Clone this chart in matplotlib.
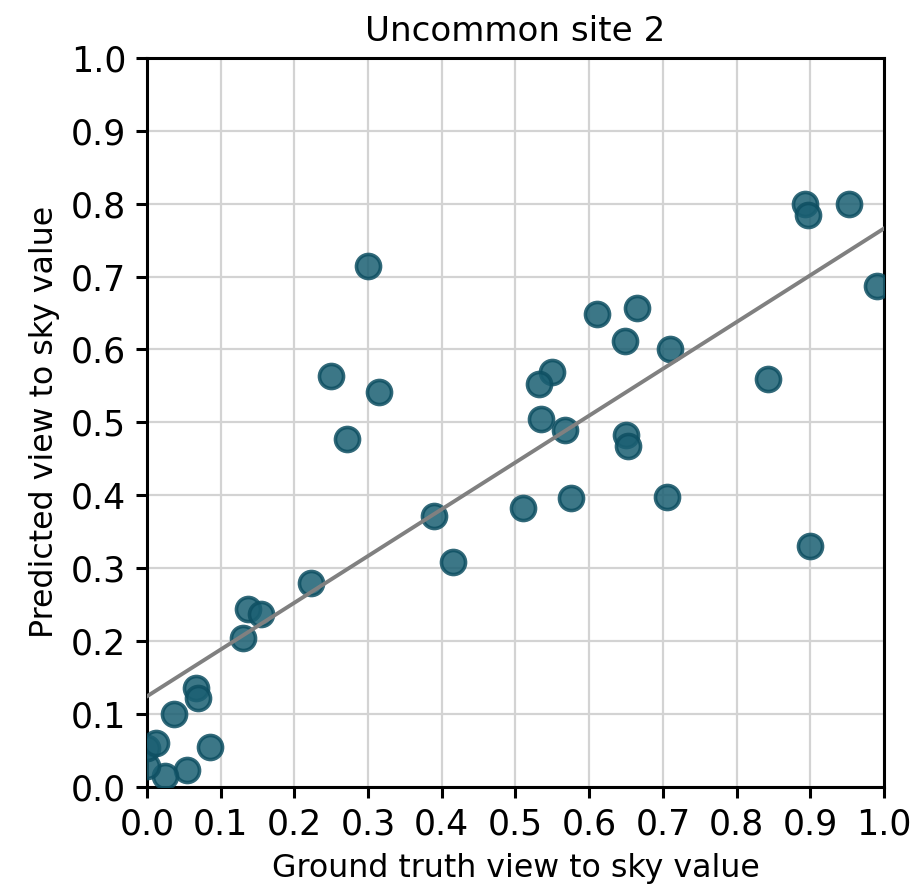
import matplotlib
matplotlib.use('Agg')
import matplotlib.pyplot as plt

# Valores
truth = [0.300, 0.250, 0.315, 0.272, 0.390, 0.415, 0.222, 0.137, 0.155, 0.131,
         0.067, 0.070, 0.037, 0.085, 0.055, 0.025, 0.000, 0.000, 0.012,
         0.610, 0.665, 0.648, 0.710, 0.550, 0.532, 0.534, 0.567, 0.650, 0.652,
         0.576, 0.510, 0.706, 0.843, 0.893, 0.897, 0.952, 0.990, 0.900]
pred = [0.715, 0.563, 0.541, 0.477, 0.372, 0.308, 0.280, 0.244, 0.237, 0.204,
        0.135, 0.122, 0.100, 0.054, 0.023, 0.015, 0.028, 0.053, 0.060,
        0.648, 0.657, 0.611, 0.600, 0.569, 0.553, 0.505, 0.490, 0.482, 0.468,
        0.396, 0.383, 0.397, 0.560, 0.799, 0.784, 0.800, 0.687, 0.331]

# recta de ajuste
fit_x = [0.0, 1.0]
fit_y = [0.124, 0.766]

ticks = [i / 10 for i in range(11)]

fig = plt.figure(figsize=(4.59, 4.455), dpi=200)
ax = fig.add_axes([0.160, 0.117, 0.803, 0.818])

ax.grid(True, color='#d3d3d3', linewidth=0.8, zorder=0)
ax.scatter(truth, pred, s=75, color='#1a5f72', alpha=0.85,
           edgecolors='#0e4f62', linewidths=1.3, zorder=3)
ax.plot(fit_x, fit_y, color='#808080', linewidth=1.4, zorder=4)

ax.set_xlim(0, 1)
ax.set_ylim(0, 1)
ax.set_xticks(ticks)
ax.set_yticks(ticks)
ax.tick_params(labelsize=12.5, width=1.1, length=4)
for s in ax.spines.values():
    s.set_linewidth(1.1)
ax.set_xlabel('Ground truth view to sky value', fontsize=11.4)
ax.set_ylabel('Predicted view to sky value', fontsize=11.4)
ax.set_title('Uncommon site 2', fontsize=12.3)

fig.savefig('out.png', dpi=200)
